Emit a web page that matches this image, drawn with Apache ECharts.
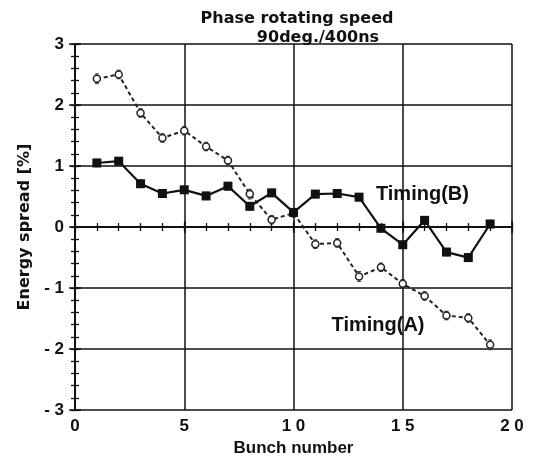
<!DOCTYPE html>
<html>
<head>
<meta charset="utf-8">
<script src="https://cdn.jsdelivr.net/npm/echarts@6/dist/echarts.min.js"></script>
<style>
  html, body { margin: 0; padding: 0; background: #fff; }
  #chart { width: 535px; height: 462px; }
</style>
</head>
<body>
<div id="chart"></div>
<script>
// Bunch index along the train
const bunches = [1, 2, 3, 4, 5, 6, 7, 8, 9, 10, 11, 12, 13, 14, 15, 16, 17, 18, 19];
// Energy spread [%] for the two timings
const timingA = [2.43, 2.50, 1.87, 1.46, 1.58, 1.32, 1.09, 0.54, 0.12, 0.23, -0.28, -0.26, -0.81, -0.66, -0.93, -1.13, -1.45, -1.49, -1.93];
const timingB = [1.05, 1.08, 0.71, 0.55, 0.61, 0.51, 0.67, 0.34, 0.56, 0.24, 0.54, 0.55, 0.49, -0.02, -0.29, 0.11, -0.41, -0.50, 0.05];
// Error bar half-widths
const errA = [0.08, 0.07, 0.07, 0.07, 0.07, 0.07, 0.07, 0.08, 0.07, 0.07, 0.07, 0.07, 0.08, 0.07, 0.07, 0.07, 0.07, 0.07, 0.08];
const errB = [0.06, 0.06, 0.06, 0.06, 0.06, 0.06, 0.06, 0.06, 0.06, 0.06, 0.06, 0.06, 0.06, 0.06, 0.06, 0.06, 0.06, 0.06, 0.06];
// Axis tick values
const xTicks = [0, 5, 10, 15, 20];
const yTicks = [-3, -2, -1, 0, 1, 2, 3];
// Curve captions and where they sit (data coordinates)
const captionA = { text: 'Timing(A)', at: [13.87, -1.61] };
const captionB = { text: 'Timing(B)', at: [15.9, 0.53] };

const SANS = '"Liberation Sans", Arial, sans-serif';
const WIDE = '"DejaVu Sans", sans-serif';
const INK = '#111';
const spaced = v => String(v).split('').join(' ');

const pairs = (ys) => bunches.map((x, i) => [x, ys[i]]);
const errData = (ys, es) => bunches.map((x, i) => [x, ys[i] - es[i], ys[i] + es[i]]);

function errorBars(params, api) {
  const x = api.value(0);
  const lo = api.coord([x, api.value(1)]);
  const hi = api.coord([x, api.value(2)]);
  const w = 2;
  const style = { stroke: '#333', lineWidth: 1 };
  return {
    type: 'group',
    children: [
      { type: 'line', shape: { x1: lo[0], y1: lo[1], x2: hi[0], y2: hi[1] }, style },
      { type: 'line', shape: { x1: lo[0] - w, y1: lo[1], x2: lo[0] + w, y2: lo[1] }, style },
      { type: 'line', shape: { x1: hi[0] - w, y1: hi[1], x2: hi[0] + w, y2: hi[1] }, style }
    ]
  };
}

const frameLine = { show: true, lineStyle: { color: INK, width: 2 } };
const majorTick = { show: true, inside: true, length: 6, lineStyle: { color: INK, width: 1.5 } };
const fineTick = { show: true, inside: true, length: 4, lineStyle: { color: INK, width: 1.3 } };
const noLabel = { show: false };
const noSplit = { show: false };

// unlabelled axes that only carry the fine tick marks
const tickAxis = (extra) => Object.assign({
  type: 'value', axisLine: { show: false }, axisTick: fineTick,
  axisLabel: noLabel, splitLine: noSplit
}, extra);

const option = {
  backgroundColor: '#fff',
  animation: false,
  title: [
    { text: 'Phase rotating speed', left: 292, top: 6, textAlign: 'center',
      textStyle: { fontFamily: WIDE, fontWeight: 'bold', fontSize: 16, color: INK } },
    { text: '90deg./400ns', left: 313, top: 25, textAlign: 'center',
      textStyle: { fontFamily: WIDE, fontWeight: 'bold', fontSize: 16, color: INK } }
  ],
  grid: { left: 75, right: 23, top: 44, bottom: 46 },
  xAxis: [
    { type: 'value', min: 0, max: 20, interval: 5,
      name: 'Bunch number', nameLocation: 'middle', nameGap: 25,
      nameTextStyle: { fontFamily: SANS, fontWeight: 'bold', fontSize: 17, color: INK },
      axisLine: frameLine, axisTick: majorTick,
      axisLabel: { fontFamily: SANS, fontWeight: 'bold', fontSize: 17, color: INK, margin: 8,
        formatter: v => xTicks.includes(v) ? spaced(v) : '' },
      splitLine: { show: true, lineStyle: { color: INK, width: 1.5 } } },
    { type: 'value', position: 'top', min: 0, max: 20, interval: 5,
      axisLine: frameLine, axisTick: majorTick, axisLabel: noLabel, splitLine: noSplit },
    tickAxis({ position: 'bottom', min: 0, max: 20, interval: 1 }),
    tickAxis({ position: 'top', min: 0, max: 20, interval: 1 })
  ],
  yAxis: [
    { type: 'value', min: -3, max: 3, interval: 1,
      name: 'Energy spread [%]', nameLocation: 'middle', nameGap: 42, nameRotate: 90,
      nameTextStyle: { fontFamily: WIDE, fontWeight: 'bold', fontSize: 16, color: INK },
      axisLine: frameLine, axisTick: majorTick,
      axisLabel: { fontFamily: SANS, fontWeight: 'bold', fontSize: 17, color: INK, margin: 11,
        formatter: v => yTicks.includes(v) ? spaced(v) : '' },
      splitLine: { show: true, lineStyle: { color: INK, width: 1.5 } } },
    { type: 'value', position: 'right', min: -3, max: 3, interval: 1,
      axisLine: frameLine, axisTick: majorTick, axisLabel: noLabel, splitLine: noSplit },
    tickAxis({ position: 'left', min: -3, max: 3, interval: 0.2 }),
    tickAxis({ position: 'right', min: -3, max: 3, interval: 0.2 })
  ],
  series: [
    { name: 'Timing(A)', type: 'line', data: pairs(timingA),
      symbol: 'circle', symbolSize: 7,
      itemStyle: { color: '#fff', borderColor: '#222', borderWidth: 1.5 },
      lineStyle: { color: '#222', width: 2, type: [4, 3] },
      z: 3 },
    { name: 'Timing(B)', type: 'line', data: pairs(timingB),
      symbol: 'rect', symbolSize: 9,
      itemStyle: { color: INK },
      lineStyle: { color: INK, width: 2.2 },
      z: 4 },
    { type: 'custom', renderItem: errorBars, data: errData(timingA, errA), z: 2, silent: true },
    { type: 'custom', renderItem: errorBars, data: errData(timingB, errB), z: 2, silent: true }
  ]
};

const chart = echarts.init(document.getElementById('chart'));
chart.setOption(option);

// place the curve captions through the chart's own coordinate system
const caption = (c) => {
  const p = chart.convertToPixel({ xAxisIndex: 0, yAxisIndex: 0 }, c.at);
  return {
    type: 'text', x: p[0], y: p[1], z: 100, silent: true,
    style: { text: c.text, align: 'center', verticalAlign: 'middle',
      font: 'bold 20px ' + SANS, fill: INK }
  };
};
chart.setOption({ graphic: [caption(captionA), caption(captionB)] });
</script>
</body>
</html>
